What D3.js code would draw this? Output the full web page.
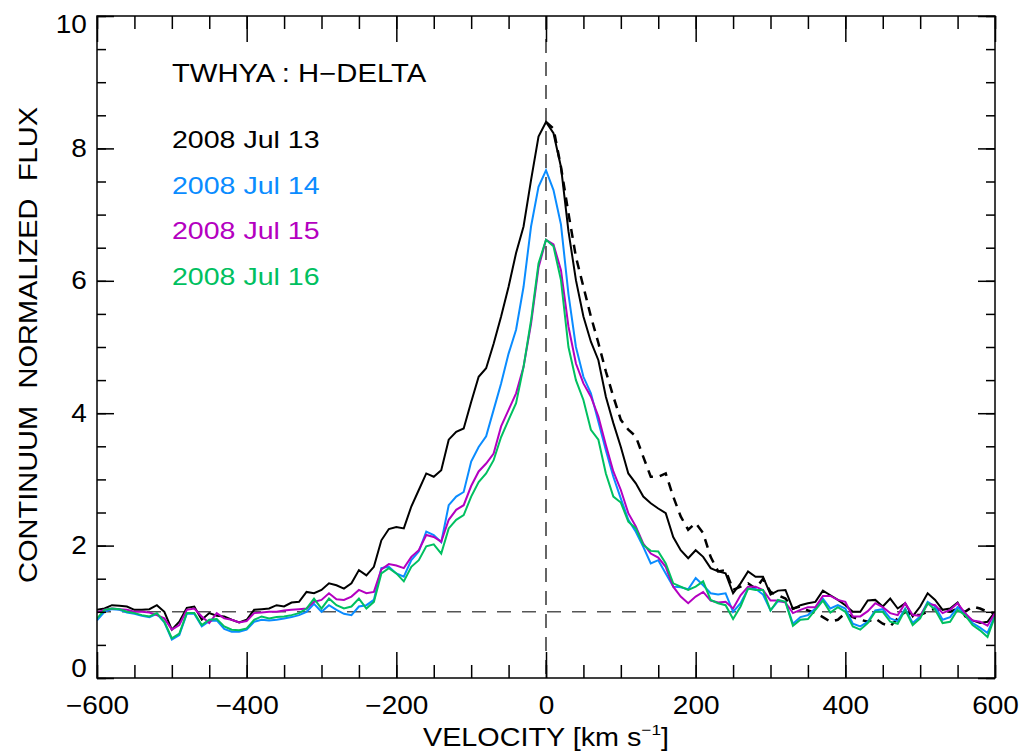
<html>
<head>
<script src="https://d3js.org/d3.v7.min.js"></script>
<style>
  body { margin: 0; background: #fff; }
  text { font-family: "Liberation Sans", Arial, Helvetica, sans-serif; }
</style>
</head>

<body>
  <script>
    const width = 1021;
    const height = 753;

    // velocity grid, km/s, step 10
    const velocity = d3.range(-600, 601, 10);

    // 2008 Jul 13 (black)
    const jul13 = [1.03, 1.05, 1.10, 1.09, 1.08, 1.03, 1.03, 1.04, 1.10, 1.00,
      0.73, 0.85, 1.06, 1.08, 0.88, 0.98, 0.94, 0.93, 0.88, 0.84,
      0.88, 1.03, 1.04, 1.05, 1.10, 1.08, 1.14, 1.15, 1.30, 1.28,
      1.33, 1.43, 1.40, 1.35, 1.43, 1.63, 1.55, 1.68, 2.08, 2.25,
      2.28, 2.26, 2.59, 2.84, 3.09, 3.04, 3.14, 3.60, 3.72, 3.77,
      4.17, 4.55, 4.68, 5.05, 5.46, 5.91, 6.42, 6.82, 7.52, 8.18,
      8.40,
      8.23, 7.72, 6.75, 6.01, 5.46, 5.08, 4.80, 4.25, 3.85, 3.49,
      3.09, 2.94, 2.74, 2.64, 2.56, 2.49, 2.13, 1.93, 1.81, 1.93,
      1.83, 1.66, 1.61, 1.58, 1.28, 1.43, 1.61, 1.53, 1.53, 1.26,
      1.32, 1.33, 1.04, 1.10, 1.13, 1.15, 1.32, 1.25, 1.18, 1.10,
      1.00, 1.00, 1.17, 1.18, 1.08, 1.20, 1.05, 1.13, 0.93, 1.08,
      1.28, 1.18, 1.03, 1.05, 1.14, 0.93, 0.87, 0.83, 0.85, 1.00];

    // 2008 Jul 14 (blue)
    const jul14 = [0.87, 1.00, 1.04, 1.03, 0.99, 0.97, 0.94, 0.92, 0.97, 0.84,
      0.58, 0.65, 0.97, 0.97, 0.78, 0.86, 0.87, 0.74, 0.70, 0.70,
      0.73, 0.85, 0.88, 0.87, 0.88, 0.90, 0.92, 0.95, 1.00, 1.12,
      1.00, 1.10, 1.03, 0.97, 0.95, 1.08, 1.10, 1.18, 1.66, 1.68,
      1.58, 1.53, 1.78, 1.91, 2.21, 2.16, 2.05, 2.61, 2.74, 2.81,
      3.27, 3.49, 3.65, 4.05, 4.45, 4.90, 5.26, 5.91, 6.82, 7.42,
      7.67,
      7.37, 6.85, 5.80, 5.00, 4.55, 4.30, 3.87, 3.44, 3.04, 2.71,
      2.39, 2.21, 1.98, 1.73, 1.78, 1.58, 1.38, 1.37, 1.34, 1.51,
      1.40, 1.28, 1.26, 1.28, 1.00, 1.13, 1.35, 1.35, 1.26, 1.02,
      1.16, 1.15, 0.82, 0.92, 0.95, 1.05, 1.20, 1.05, 1.10, 1.05,
      0.82, 0.78, 0.85, 1.02, 1.04, 0.90, 0.86, 1.05, 0.83, 0.93,
      1.15, 1.08, 0.88, 0.92, 1.07, 0.98, 0.83, 0.76, 0.68, 0.95];

    // 2008 Jul 15 (magenta)
    const jul15 = [0.99, 1.03, 1.05, 1.04, 1.03, 1.00, 1.00, 0.99, 0.95, 0.90,
      0.73, 0.80, 1.03, 1.05, 0.93, 0.83, 0.98, 0.90, 0.88, 0.84,
      0.86, 0.98, 0.99, 1.00, 1.00, 1.02, 1.03, 1.04, 1.05, 1.15,
      1.18, 1.28, 1.19, 1.18, 1.23, 1.33, 1.28, 1.30, 1.64, 1.72,
      1.70, 1.66, 1.83, 1.93, 2.16, 2.13, 2.06, 2.39, 2.54, 2.61,
      2.90, 3.12, 3.24, 3.39, 3.80, 4.05, 4.30, 4.70, 5.35, 6.20,
      6.62,
      6.55, 6.16, 5.31, 4.75, 4.45, 4.25, 3.95, 3.52, 3.12, 2.84,
      2.49, 2.29, 2.03, 1.88, 1.82, 1.68, 1.38, 1.23, 1.13, 1.23,
      1.30, 1.17, 1.14, 1.15, 1.05, 1.25, 1.38, 1.38, 1.33, 1.17,
      1.17, 1.14, 0.98, 1.03, 1.07, 1.07, 1.24, 1.24, 1.18, 1.15,
      0.93, 0.93, 1.01, 1.13, 1.07, 0.98, 0.95, 1.13, 0.95, 0.94,
      1.12, 1.10, 0.98, 1.03, 1.13, 0.98, 0.87, 0.85, 0.79, 0.98];

    // 2008 Jul 16 (green)
    const jul16 = [0.90, 1.03, 1.05, 1.04, 1.00, 0.98, 0.95, 0.93, 0.98, 0.85,
      0.60, 0.67, 0.98, 0.98, 0.80, 0.88, 0.89, 0.78, 0.73, 0.72,
      0.75, 0.88, 0.93, 0.90, 0.92, 0.93, 0.95, 0.98, 1.05, 1.20,
      1.05, 1.20, 1.10, 1.05, 1.08, 1.20, 1.05, 1.15, 1.58, 1.66,
      1.58, 1.46, 1.68, 1.78, 1.99, 2.02, 1.88, 2.26, 2.39, 2.46,
      2.74, 2.96, 3.09, 3.29, 3.64, 3.90, 4.15, 4.70, 5.40, 6.26,
      6.62,
      6.52, 6.01, 5.00, 4.50, 4.20, 3.75, 3.60, 3.09, 2.74, 2.65,
      2.36, 2.26, 2.01, 1.92, 1.91, 1.73, 1.43, 1.38, 1.33, 1.38,
      1.46, 1.18, 1.13, 1.10, 0.89, 1.08, 1.35, 1.33, 1.33, 1.02,
      1.18, 1.15, 0.79, 0.88, 0.89, 1.03, 1.17, 0.99, 1.07, 1.00,
      0.78, 0.73, 0.83, 1.00, 1.00, 0.85, 0.82, 1.03, 0.80, 0.90,
      1.13, 1.03, 0.83, 0.85, 1.03, 0.95, 0.80, 0.72, 0.62, 0.93];

    // dashed black curve, red side only (0..600)
    const mirrorVel = d3.range(0, 601, 10);
    const mirror = [8.40, 8.30, 7.72, 7.02, 6.36, 5.91, 5.46, 5.06, 4.63, 4.25,
      3.90, 3.75, 3.65, 3.34, 3.04, 3.04, 3.09, 2.74, 2.44, 2.24,
      2.34, 2.19, 1.83, 1.61, 1.63, 1.33, 1.38, 1.43, 1.35, 1.50,
      1.30, 1.25, 1.20, 1.05, 1.08, 1.02, 0.98, 0.92, 0.85, 0.88,
      0.98, 0.92, 0.88, 0.85, 0.90, 0.82, 0.78, 0.90, 1.00, 0.95,
      0.95, 1.00, 1.05, 1.02, 1.00, 1.05, 1.00, 1.08, 1.05, 1.00, 0.98];

    const legendLabels = ["2008 Jul 13", "2008 Jul 14", "2008 Jul 15", "2008 Jul 16"];
    const colors = ["#000000", "#0a8cff", "#b400c0", "#00c060"];
    const xTicks = [-600, -400, -200, 0, 200, 400, 600];
    const yTicks = [0, 2, 4, 6, 8, 10];

    const x0 = 97, x1 = 995, y0 = 16, y1 = 678;

    const svg = d3.select("body")
              .append("svg")
              .attr("width", width)
              .attr("height", height);

    const x = d3.scaleLinear().domain([-600, 600]).range([x0, x1]);
    const y = d3.scaleLinear().domain([0, 10]).range([y1, y0]);

    // clip for the curves
    svg.append("clipPath").attr("id", "plot")
      .append("rect")
      .attr("x", x0).attr("y", y0)
      .attr("width", x1 - x0).attr("height", y1 - y0);

    // reference lines
    svg.append("line")
      .attr("x1", x0).attr("x2", x1)
      .attr("y1", y(1)).attr("y2", y(1))
      .attr("stroke", "#555").attr("stroke-width", 1.5)
      .attr("stroke-dasharray", "14,11");

    svg.append("line")
      .attr("x1", x(0)).attr("x2", x(0))
      .attr("y1", y0).attr("y2", y1)
      .attr("stroke", "black").attr("stroke-width", 1.2)
      .attr("stroke-dasharray", "14,9");

    const line = d3.line()
      .x((d, i) => x(velocity[i]))
      .y(d => y(d));

    const g = svg.append("g").attr("clip-path", "url(#plot)");

    g.append("path")
      .attr("d", line(jul13))
      .attr("fill", "none").attr("stroke", colors[0]).attr("stroke-width", 2);

    // dashed curve
    g.append("path")
      .attr("d", d3.line().x((d, i) => x(mirrorVel[i])).y(d => y(d))(mirror))
      .attr("fill", "none").attr("stroke", "black").attr("stroke-width", 2.5)
      .attr("stroke-dasharray", "9,7");

    [jul14, jul15, jul16].forEach((s, k) => {
      g.append("path")
        .attr("d", line(s))
        .attr("fill", "none").attr("stroke", colors[k + 1]).attr("stroke-width", 2);
    });

    // axes, ticks pointing inward on all sides
    const minorX = d3.range(-600, 601, 50);
    const minorY = d3.range(0, 10.01, 0.5);

    svg.append("g").attr("transform", `translate(0,${y1})`)
      .call(d3.axisBottom(x).tickValues(minorX).tickSize(-13).tickFormat(""));
    svg.append("g").attr("transform", `translate(0,${y1})`)
      .call(d3.axisBottom(x).tickValues(xTicks).tickSize(-26).tickPadding(18)
        .tickFormat(d => d < 0 ? "\u2212" + Math.abs(d) : d));
    svg.append("g").attr("transform", `translate(0,${y0})`)
      .call(d3.axisTop(x).tickValues(minorX).tickSize(-13).tickFormat(""));
    svg.append("g").attr("transform", `translate(0,${y0})`)
      .call(d3.axisTop(x).tickValues(xTicks).tickSize(-26).tickFormat(""));

    svg.append("g").attr("transform", `translate(${x0},0)`)
      .call(d3.axisLeft(y).tickValues(minorY).tickSize(-9).tickFormat(""));
    const yAxis = svg.append("g").attr("transform", `translate(${x0},0)`)
      .call(d3.axisLeft(y).tickValues(yTicks).tickSize(-17).tickPadding(9));
    svg.append("g").attr("transform", `translate(${x1},0)`)
      .call(d3.axisRight(y).tickValues(minorY).tickSize(-9).tickFormat(""));
    svg.append("g").attr("transform", `translate(${x1},0)`)
      .call(d3.axisRight(y).tickValues(yTicks).tickSize(-17).tickFormat(""));

    // end labels are pulled inside the frame
    yAxis.selectAll(".tick text")
      .attr("dy", d => d == 10 ? "0.65em" : d == 0 ? "-0.05em" : "0.32em");

    svg.selectAll(".domain").remove();
    svg.selectAll(".tick line").attr("stroke", "black").attr("stroke-width", 1.5);
    // the original lettering is a bit wider than Helvetica
    svg.selectAll(".tick text").attr("font-size", 25).attr("fill", "black")
      .attr("transform", "scale(1.12,1)")
      .style("font-family", "'Liberation Sans', Arial, sans-serif");

    svg.append("rect")
      .attr("x", x0).attr("y", y0)
      .attr("width", x1 - x0).attr("height", y1 - y0)
      .attr("fill", "none").attr("stroke", "black").attr("stroke-width", 1.5);

    // axis titles
    const xt = svg.append("text")
      .attr("transform", `translate(${(x0 + x1) / 2},746) scale(1.15,1)`)
      .attr("text-anchor", "middle").attr("font-size", 25)
      .text("VELOCITY [km s");
    xt.append("tspan").attr("font-size", 15).attr("dy", -11).text("\u22121");
    xt.append("tspan").attr("dy", 11).text("]");

    svg.append("text")
      .attr("transform", "translate(37,345) rotate(-90) scale(1.16,1)")
      .attr("text-anchor", "middle").attr("font-size", 25)
      .style("word-spacing", "8px")
      .text("CONTINUUM NORMALIZED FLUX");

    // labels in the plot
    svg.append("text")
      .attr("transform", "translate(172,82) scale(1.17,1)")
      .attr("font-size", 25)
      .text("TWHYA : H\u2212DELTA");

    legendLabels.forEach((t, i) => {
      svg.append("text")
        .attr("transform", `translate(172,${148 + i * 45.5}) scale(1.19,1)`)
        .attr("font-size", 24).attr("fill", colors[i])
        .text(t);
    });
  </script>
</body>
</html>
